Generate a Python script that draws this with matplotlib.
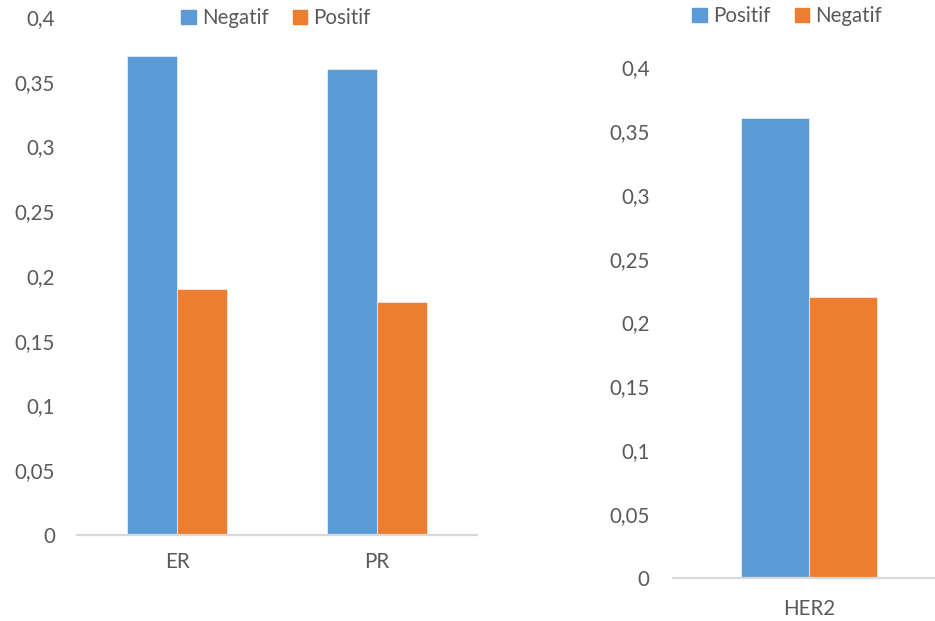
import matplotlib
matplotlib.use("Agg")
import matplotlib.pyplot as plt
from matplotlib.patches import Patch

plt.rcParams['font.family'] = ['Lato', 'DejaVu Sans']

# Data
receptor_categories = ["ER", "PR"]
receptor_negatif = [0.37, 0.36]
receptor_positif = [0.19, 0.18]

her2_categories = ["HER2"]
her2_positif = [0.36]
her2_negatif = [0.22]

y_ticks = [0, 0.05, 0.1, 0.15, 0.2, 0.25, 0.3, 0.35, 0.4]
y_tick_labels = ["0", "0,05", "0,1", "0,15", "0,2", "0,25", "0,3", "0,35", "0,4"]

BLUE = "#5B9BD5"
ORANGE = "#ED7D31"
TEXT = "#595959"
AXIS = "#D9D9D9"
FS = 14.8

W, H = 935, 621
fig = plt.figure(figsize=(W / 100, H / 100), dpi=100)


def style(ax, ypad, xpad):
    for s in ("top", "right", "left"):
        ax.spines[s].set_visible(False)
    ax.spines["bottom"].set_color(AXIS)
    ax.spines["bottom"].set_linewidth(1.6)
    ax.set_ylim(0, 0.4)
    ax.set_yticks(y_ticks)
    ax.set_yticklabels(y_tick_labels)
    ax.tick_params(axis="both", length=0, colors=TEXT, labelsize=FS)
    ax.tick_params(axis="y", pad=ypad)
    ax.tick_params(axis="x", pad=xpad)


# Left chart: ER / PR
ax1 = fig.add_axes([77 / W, (H - 535) / H, 400 / W, 518 / H])
bw = 0.25
x1 = list(range(len(receptor_categories)))
ax1.bar([x - bw / 2 for x in x1], receptor_negatif, bw, color=BLUE,
        edgecolor="white", linewidth=0.4, label="Negatif")
ax1.bar([x + bw / 2 for x in x1], receptor_positif, bw, color=ORANGE,
        edgecolor="white", linewidth=0.4, label="Positif")
ax1.set_xlim(-0.5, 1.5)
ax1.set_xticks(x1)
ax1.set_xticklabels(receptor_categories)
style(ax1, ypad=16, xpad=12)
ax1.legend(handles=[Patch(color=BLUE, label="Negatif"), Patch(color=ORANGE, label="Positif")],
           loc="center", bbox_to_anchor=(276 / W, 1 - 18 / H), bbox_transform=fig.transFigure,
           ncol=2, frameon=False, fontsize=FS, labelcolor=TEXT,
           handlelength=0.7, handleheight=0.7, handletextpad=0.3, columnspacing=1.2)

# Right chart: HER2
ax2 = fig.add_axes([673 / W, (H - 578) / H, 262 / W, 511 / H])
x2 = list(range(len(her2_categories)))
ax2.bar([x - bw / 2 for x in x2], her2_positif, bw, color=BLUE,
        edgecolor="white", linewidth=0.4, label="Positif")
ax2.bar([x + bw / 2 for x in x2], her2_negatif, bw, color=ORANGE,
        edgecolor="white", linewidth=0.4, label="Negatif")
ax2.set_xlim(-0.5, -0.5 + 262 / 272)
ax2.set_xticks(x2)
ax2.set_xticklabels(her2_categories)
style(ax2, ypad=17, xpad=15)
ax2.legend(handles=[Patch(color=BLUE, label="Positif"), Patch(color=ORANGE, label="Negatif")],
           loc="center", bbox_to_anchor=(787 / W, 1 - 16 / H), bbox_transform=fig.transFigure,
           ncol=2, frameon=False, fontsize=FS, labelcolor=TEXT,
           handlelength=0.7, handleheight=0.7, handletextpad=0.3, columnspacing=1.2)

fig.savefig("out.png", dpi=100, facecolor="white")
